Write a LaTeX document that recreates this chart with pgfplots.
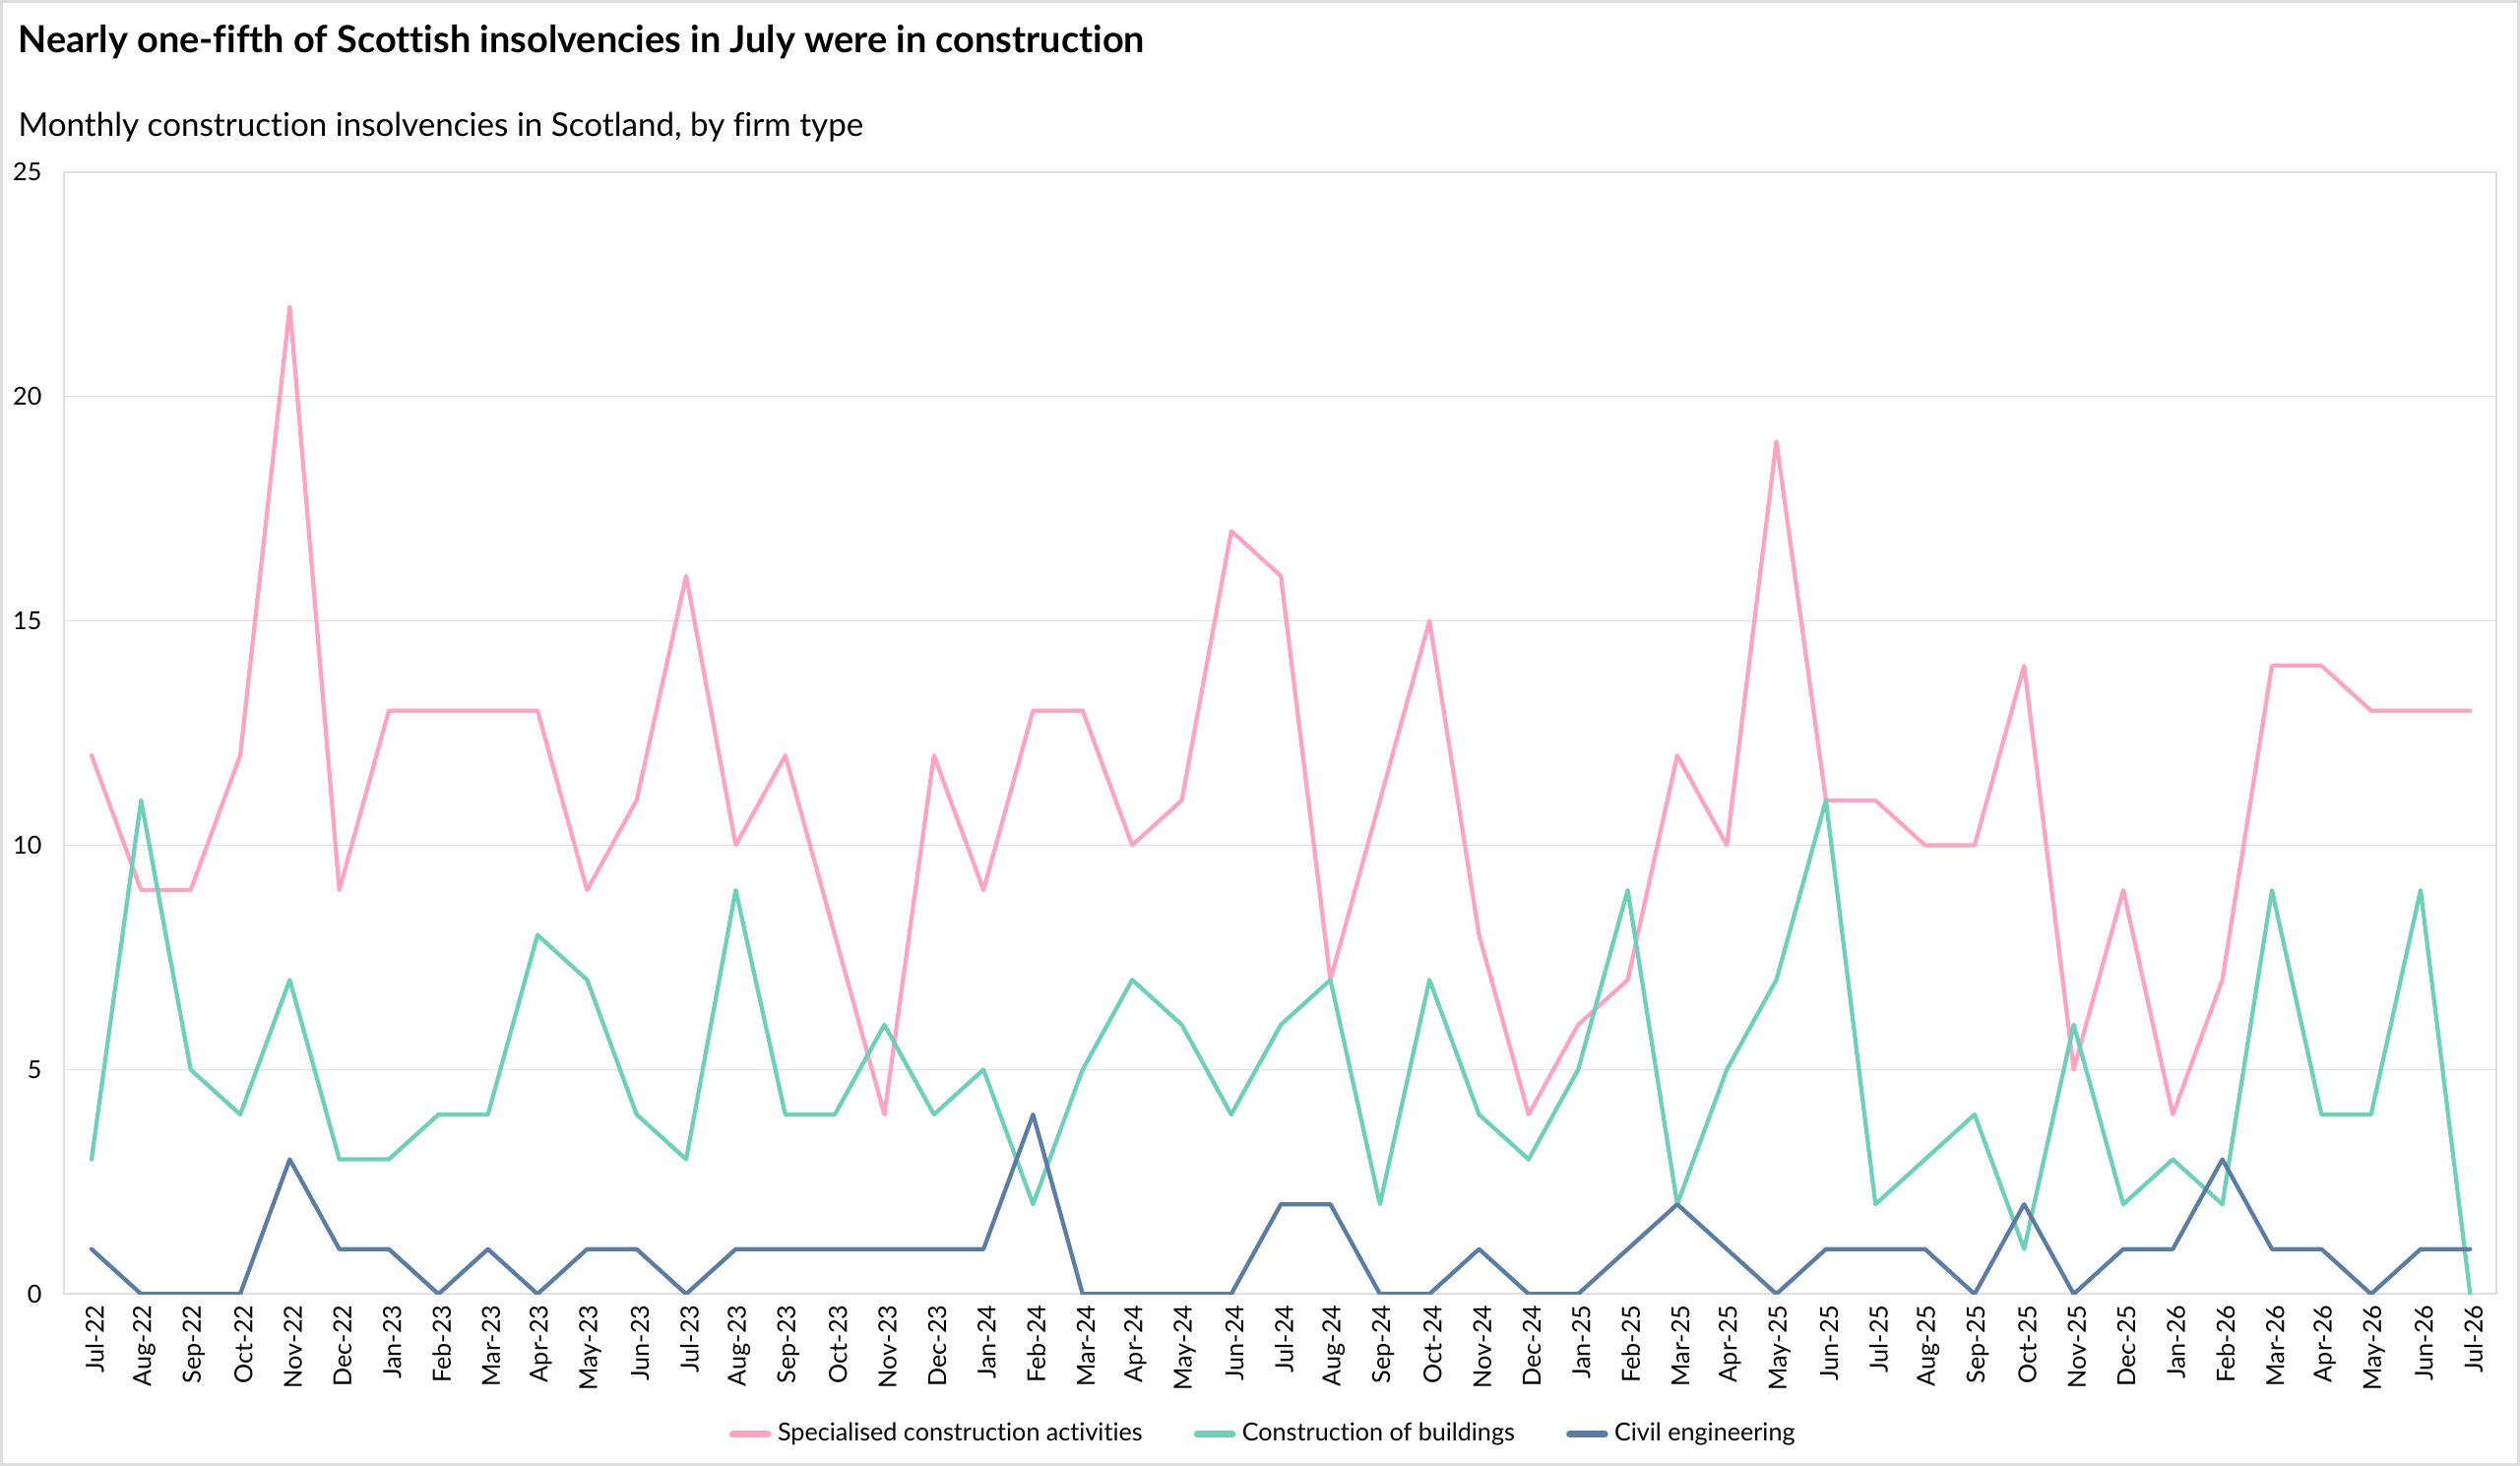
\documentclass[border=0pt]{standalone}
\usepackage{pgfplots}
\pgfplotsset{compat=1.18}
\usepackage{pgfplotstable}
\usepackage{fontspec}
\setmainfont[Ligatures=NoCommon]{Lato}
\definecolor{cpink}{HTML}{FFA3C2}
\definecolor{cgreen}{HTML}{6DD0B8}
\definecolor{cblue}{HTML}{5A7DA5}
\definecolor{cgrid}{HTML}{DEDEDE}
\pgfplotstableread{
x spec build civil
0 12 3 1
1 9 11 0
2 9 5 0
3 12 4 0
4 22 7 3
5 9 3 1
6 13 3 1
7 13 4 0
8 13 4 1
9 13 8 0
10 9 7 1
11 11 4 1
12 16 3 0
13 10 9 1
14 12 4 1
15 8 4 1
16 4 6 1
17 12 4 1
18 9 5 1
19 13 2 4
20 13 5 0
21 10 7 0
22 11 6 0
23 17 4 0
24 16 6 2
25 7 7 2
26 11 2 0
27 15 7 0
28 8 4 1
29 4 3 0
30 6 5 0
31 7 9 1
32 12 2 2
33 10 5 1
34 19 7 0
35 11 11 1
36 11 2 1
37 10 3 1
38 10 4 0
39 14 1 2
40 5 6 0
41 9 2 1
42 4 3 1
43 7 2 3
44 14 9 1
45 14 4 1
46 13 4 0
47 13 9 1
48 13 0 1
}\datatable
\begin{document}
\begin{tikzpicture}
\path[use as bounding box] (0,0) rectangle (784pt,456pt);
\draw[cgrid, line width=0.8pt] (0.4pt,0.4pt) rectangle (783.6pt,455.6pt);
\node[anchor=west, inner sep=0pt, font=\fontsize{11.6}{13}\selectfont\bfseries] at (5.5pt,443pt) {Nearly one-fifth of Scottish insolvencies in July were in construction};
\node[anchor=west, inner sep=0pt, font=\fontsize{10.15}{12}\selectfont] at (5.5pt,416.5pt) {Monthly construction insolvencies in Scotland, by firm type};
\begin{axis}[
  at={(20pt,53.5pt)}, anchor=south west,
  width=756.5pt, height=349pt, scale only axis,
  xmin=-0.55, xmax=48.52, ymin=0, ymax=25,
  ytick={0,5,10,15,20,25},
  xtick={0,...,48},
  xticklabels={Jul-22,Aug-22,Sep-22,Oct-22,Nov-22,Dec-22,Jan-23,Feb-23,Mar-23,Apr-23,May-23,Jun-23,Jul-23,Aug-23,Sep-23,Oct-23,Nov-23,Dec-23,Jan-24,Feb-24,Mar-24,Apr-24,May-24,Jun-24,Jul-24,Aug-24,Sep-24,Oct-24,Nov-24,Dec-24,Jan-25,Feb-25,Mar-25,Apr-25,May-25,Jun-25,Jul-25,Aug-25,Sep-25,Oct-25,Nov-25,Dec-25,Jan-26,Feb-26,Mar-26,Apr-26,May-26,Jun-26,Jul-26},
  major tick length=0pt,
  ymajorgrids, grid style={cgrid, line width=0.5pt},
  axis line style={cgrid, line width=0.6pt},
  tick label style={font=\fontsize{7.7}{8.5}\selectfont, text=black},
  /pgf/number format/assume math mode=true,
  xticklabel style={rotate=90, anchor=east, yshift=-1pt},
  yticklabel style={xshift=-3.5pt},
  legend style={at={(0.494,-0.125)}, anchor=center, draw=none, fill=none,
    font=\fontsize{7.7}{8.5}\selectfont, legend columns=3,
    /tikz/every even column/.append style={column sep=14pt}},
  legend cell align=left,
  legend image code/.code={\draw[#1, line width=2pt] (0pt,0pt) -- (11pt,0pt);},
  every axis plot/.append style={line width=1.3pt, line join=round, line cap=round},
]
\addplot[cpink, mark=none] table[x=x, y=spec] {\datatable};
\addlegendentry{Specialised construction activities}
\addplot[cgreen, mark=none] table[x=x, y=build] {\datatable};
\addlegendentry{Construction of buildings}
\addplot[cblue, mark=none] table[x=x, y=civil] {\datatable};
\addlegendentry{Civil engineering}
\end{axis}
\end{tikzpicture}
\end{document}
